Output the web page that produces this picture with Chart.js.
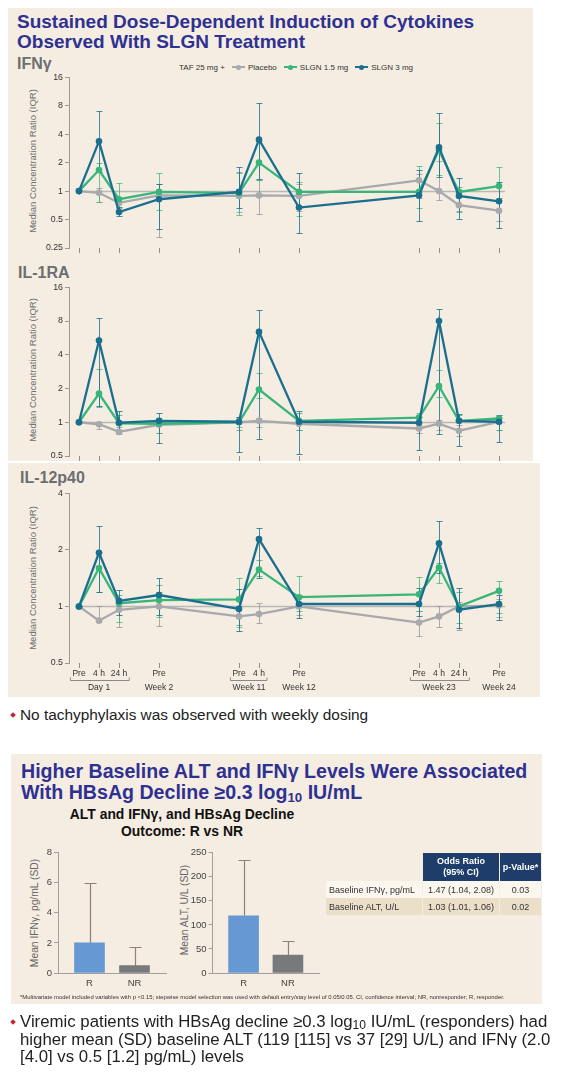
<!DOCTYPE html>
<html lang="en">
<head>
  <meta charset="UTF-8" />
  <title>SLGN cytokine induction</title>
  <style>
    body {
      margin: 0;
      width: 573px;
      height: 1074px;
      position: relative;
      overflow: hidden;
      background: #fff;
      font-family: 'Liberation Sans', Arial, sans-serif;
      color: #222;
    }
    .panel { position: absolute; background: #f5ede1; }
    .abs { position: absolute; white-space: nowrap; }
    .title { color: #2e3192; font-weight: bold; font-size: 19px; line-height: 20px; }
    .cyto { color: #6d6e71; font-weight: bold; font-size: 16px; line-height: 16px; }
    .ytitle {
      position: absolute;
      transform: translate(-50%, -50%) rotate(-90deg);
      white-space: nowrap;
      color: #6d6e71;
      font-size: 9.5px;
    }
    .legend { font-size: 8px; line-height: 8px; color: #333; }
    .mk {
      display: inline-block; position: relative;
      width: 13px; height: 2px; margin: 0 3px 0 7px; vertical-align: 2px;
    }
    .mk::after {
      content: ''; position: absolute; left: 4px; top: -1.5px;
      width: 5px; height: 5px; border-radius: 50%; background: inherit;
    }
    .dia {
      position: absolute; width: 4px; height: 4px; background: #c1272d;
      transform: rotate(45deg);
    }
    canvas { position: absolute; }
    table.odds {
      position: absolute; border-collapse: separate; border-spacing: 1px 0;
      font-size: 9px; color: #333;
    }
    table.odds th {
      background: #1f3d6b; color: #fff; font-weight: bold; height: 28px;
      padding: 0; text-align: center; line-height: 11px;
    }
    table.odds th.blank { background: transparent; }
    table.odds td { height: 17px; padding: 0 3px; }
    table.odds td.c { text-align: center; }
    .sub { font-size: 0.68em; vertical-align: -0.2em; line-height: 0; }
  </style>
</head>
<body>
  <div class="panel" style="left:8px; top:8px; width:525px; height:453px;"></div>
  <div class="panel" style="left:8px; top:463px; width:532px; height:234px;"></div>
  <div class="panel" style="left:11px; top:754px; width:531px; height:250px;"></div>

  <div class="abs title" style="left:17px; top:12px;">Sustained Dose-Dependent Induction of Cytokines<br>Observed With SLGN Treatment</div>
  <div class="abs cyto" style="left:17px; top:56px;">IFNγ</div>
  <div class="abs cyto" style="left:18px; top:265px;">IL-1RA</div>
  <div class="abs cyto" style="left:20px; top:470px;">IL-12p40</div>

  <div class="abs legend" style="left:179px; top:64px;">TAF 25 mg +<span class="mk" style="background:#a7a9ac"></span>Placebo<span class="mk" style="background:#38b57a"></span>SLGN 1.5 mg<span class="mk" style="background:#1a6f8e"></span>SLGN 3 mg</div>

  <div class="ytitle" style="left:32px; top:161px;">Median Concentration Ratio (IQR)</div>
  <div class="ytitle" style="left:32px; top:370px;">Median Concentration Ratio (IQR)</div>
  <div class="ytitle" style="left:32px; top:578px;">Median Concentration Ratio (IQR)</div>

  <canvas id="ifnChart" width="520" height="190" style="left:0; top:70px;"></canvas>
  <canvas id="il1raChart" width="520" height="190" style="left:0; top:280px;"></canvas>
  <canvas id="il12Chart" width="540" height="210" style="left:0; top:486px;"></canvas>

  <div class="dia" style="left:11px; top:713px;"></div>
  <div class="abs" style="left:20px; top:707px; font-size:15.4px; line-height:15.4px; color:#222;">No tachyphylaxis was observed with weekly dosing</div>

  <div class="abs title" style="left:21px; top:761px; font-size:19.6px; line-height:21px;">Higher Baseline ALT and IFNγ Levels Were Associated<br>With HBsAg Decline ≥0.3 log<span class="sub">10</span> IU/mL</div>
  <div class="abs" style="left:52px; top:806px; width:260px; text-align:center; font-weight:bold; font-size:13.9px; line-height:17px; color:#111;">ALT and IFNγ, and HBsAg Decline<br>Outcome: R vs NR</div>

  <div class="ytitle" style="left:34px; top:913px; font-size:10.3px; color:#666;">Mean IFNγ, pg/mL (SD)</div>
  <div class="ytitle" style="left:184px; top:910px; font-size:10.3px; color:#666;">Mean ALT, U/L (SD)</div>
  <canvas id="ifnBar" width="175" height="150" style="left:0; top:845px;"></canvas>
  <canvas id="altBar" width="175" height="150" style="left:155px; top:845px;"></canvas>

  <table class="odds" id="oddsTable" style="left:325px; top:853px;"></table>

  <div class="abs" style="left:20px; top:994px; font-size:5.9px; color:#333;">*Multivariate model included variables with p &lt;0.15; stepwise model selection was used with default entry/stay level of 0.05/0.05. CI, confidence interval; NR, nonresponder; R, responder.</div>

  <div class="dia" style="left:11px; top:1020px;"></div>
  <div class="abs" style="left:20px; top:1013px; font-size:16.8px; line-height:17.5px; color:#222;">Viremic patients with HBsAg decline ≥0.3 log<span class="sub" style="font-size:0.72em">10</span> IU/mL (responders) had<br>higher mean (SD) baseline ALT (119 [115] vs 37 [29] U/L) and IFNγ (2.0<br>[4.0] vs 0.5 [1.2] pg/mL) levels</div>

  <script src="https://cdn.jsdelivr.net/npm/chart.js"></script>
  <script>
    // visit timeline (x = study timeline step)
    const timeX = [0, 1, 2, 4, 8, 9, 11, 17, 18, 19, 21];
    const timeLabels = ['Pre', '4 h', '24 h', 'Pre', 'Pre', '4 h', 'Pre', 'Pre', '4 h', '24 h', 'Pre'];
    const visitGroups = ['Day 1', 'Week 2', 'Week 11', 'Week 12', 'Week 23', 'Week 24'];
    const visitGroupIdx = [[0, 2], [3, 3], [4, 5], [6, 6], [7, 9], [10, 10]];

    // IFNy median ratio + IQR
    const ifnPlacebo   = [1, 0.96, 0.75, 0.90, 0.89, 0.90, 0.89, 1.30, 1.00, 0.71, 0.62];
    const ifnPlaceboLo = [1, 0.76, 0.66, 0.33, 0.60, 0.57, 0.62, 0.85, 0.80, 0.62, 0.48];
    const ifnPlaceboHi = [1, 1.08, 0.85, 1.19, 1.60, 1.30, 1.20, 1.50, 2.10, 0.90, 0.80];
    const ifnLow       = [1, 1.67, 0.82, 0.98, 0.95, 2.00, 0.98, 0.98, 2.70, 0.98, 1.13];
    const ifnLowLo     = [1, 0.76, 0.60, 0.63, 0.56, 1.30, 0.54, 0.67, 1.47, 0.60, 0.85];
    const ifnLowHi     = [1, 2.00, 1.22, 1.54, 1.54, 3.40, 1.25, 1.84, 5.20, 1.10, 1.78];
    const ifnHigh      = [1, 3.37, 0.60, 0.82, 0.98, 3.50, 0.67, 0.90, 2.90, 0.89, 0.78];
    const ifnHighLo    = [1, 1.60, 0.55, 0.40, 0.67, 1.35, 0.36, 0.48, 1.40, 0.51, 0.41];
    const ifnHighHi    = [1, 7.06, 0.68, 1.20, 1.80, 8.60, 1.55, 1.67, 6.70, 1.38, 1.25];

    // IL-1RA
    const il1Placebo   = [1, 0.96, 0.82, 0.95, 1.00, 1.03, 0.97, 0.88, 0.97, 0.84, 1.01];
    const il1PlaceboLo = [1, 0.87, 0.78, 0.80, 0.90, 0.90, 0.85, 0.80, 0.85, 0.75, 0.85];
    const il1PlaceboHi = [1, 1.00, 0.90, 1.05, 1.10, 1.10, 1.05, 0.95, 1.05, 0.95, 1.10];
    const il1Low       = [1, 1.80, 0.98, 0.97, 1.00, 1.96, 1.03, 1.10, 2.10, 1.03, 1.08];
    const il1LowLo     = [1, 1.37, 0.85, 0.80, 0.85, 1.65, 0.85, 0.90, 1.69, 0.85, 0.85];
    const il1LowHi     = [1, 2.97, 1.15, 1.10, 1.12, 2.77, 1.20, 1.20, 2.90, 1.15, 1.12];
    const il1High      = [1, 5.35, 0.99, 1.03, 1.01, 6.40, 1.01, 0.99, 8.00, 1.03, 1.01];
    const il1HighLo    = [1, 1.40, 0.85, 0.65, 0.54, 0.71, 0.52, 0.57, 0.79, 0.61, 0.67];
    const il1HighHi    = [1, 8.50, 1.27, 1.22, 1.12, 10.0, 1.26, 1.12, 10.3, 1.18, 1.16];

    // IL-12p40
    const il12Placebo   = [1, 0.84, 0.96, 1.00, 0.885, 0.91, 1.00, 0.82, 0.885, 1.00, 1.01];
    const il12PlaceboLo = [1, 0.84, 0.78, 0.79, 0.78, 0.82, 0.90, 0.70, 0.78, 0.75, 0.88];
    const il12PlaceboHi = [1, 1.00, 1.00, 1.20, 1.00, 1.04, 1.05, 0.95, 1.01, 1.05, 1.10];
    const il12Low       = [1, 1.60, 1.04, 1.08, 1.09, 1.57, 1.12, 1.16, 1.61, 1.00, 1.21];
    const il12LowLo     = [1, 1.19, 0.83, 0.88, 0.80, 1.45, 0.95, 0.95, 1.33, 0.82, 0.92];
    const il12LowHi     = [1, 1.95, 1.15, 1.30, 1.41, 1.77, 1.46, 1.43, 1.70, 1.20, 1.37];
    const il12High      = [1, 1.93, 1.07, 1.15, 0.97, 2.28, 1.03, 1.03, 2.17, 0.96, 1.03];
    const il12HighLo    = [1, 1.20, 0.90, 0.90, 0.74, 1.41, 0.87, 0.885, 1.50, 0.77, 0.85];
    const il12HighHi    = [1, 2.69, 1.22, 1.41, 1.24, 2.63, 1.15, 1.25, 2.85, 1.25, 1.15];

    // baseline by HBsAg outcome
    const barCats = ['R', 'NR'];
    const ifnMean = [2.0, 0.5];
    const ifnSD = [4.0, 1.2];
    const altMean = [119, 37];
    const altSD = [115, 29];

    // odds ratio table
    const oddsRows = ['Baseline IFNγ, pg/mL', 'Baseline ALT, U/L'];
    const oddsRatios = ['1.47 (1.04, 2.08)', '1.03 (1.01, 1.06)'];
    const pValues = ['0.03', '0.02'];

    Chart.defaults.font.family = "'Liberation Sans', Arial, sans-serif";

    const GRAY = '#a7a9ac', GREEN = '#38b57a', BLUE = '#1a6f8e';

    // IQR whiskers drawn through the scales
    const errorBars = {
      id: 'errorBars',
      beforeDatasetsDraw(chart) {
        const { ctx, scales: { x, y } } = chart;
        chart.data.datasets.forEach(ds => {
          if (!ds.lo) return;
          ctx.save();
          ctx.strokeStyle = ds.errColor;
          ctx.lineWidth = 1;
          ds.data.forEach((pt, j) => {
            const px = Math.round(x.getPixelForValue(pt.x)) + 0.5;
            const top = Math.round(y.getPixelForValue(ds.hi[j])) + 0.5;
            const bot = Math.round(y.getPixelForValue(ds.lo[j])) + 0.5;
            ctx.beginPath();
            ctx.moveTo(px, top); ctx.lineTo(px, bot);
            ctx.moveTo(px - 3, top); ctx.lineTo(px + 3, top);
            ctx.moveTo(px - 3, bot); ctx.lineTo(px + 3, bot);
            ctx.stroke();
          });
          ctx.restore();
        });
      }
    };

    // ratio = 1 reference line
    const refLine = {
      id: 'refLine',
      beforeDatasetsDraw(chart) {
        const { ctx, scales: { x, y } } = chart;
        const py = Math.round(y.getPixelForValue(1)) + 0.5;
        ctx.save();
        ctx.strokeStyle = '#b8b8b8';
        ctx.lineWidth = 1.3;
        ctx.beginPath();
        ctx.moveTo(x.getPixelForValue(0), py);
        ctx.lineTo(x.getPixelForValue(21.3), py);
        ctx.stroke();
        ctx.restore();
      }
    };

    // Day / Week labels under the time ticks
    const visitBrackets = {
      id: 'visitBrackets',
      afterDraw(chart) {
        const { ctx, chartArea, scales: { x } } = chart;
        ctx.save();
        ctx.font = "8.5px 'Liberation Sans', Arial, sans-serif";
        ctx.fillStyle = '#333';
        ctx.strokeStyle = '#8a8a8a';
        ctx.lineWidth = 1;
        ctx.textAlign = 'center';
        ctx.textBaseline = 'middle';
        const yBr = Math.round(chartArea.bottom + 17) + 0.5;
        visitGroupIdx.forEach(([a, b], g) => {
          const xa = x.getPixelForValue(timeX[a]);
          const xb = x.getPixelForValue(timeX[b]);
          ctx.fillText(visitGroups[g], (xa + xb) / 2, chartArea.bottom + 24.5);
          if (b > a) {
            const l = xa - ctx.measureText(timeLabels[a]).width / 2 - 2;
            const r = xb + ctx.measureText(timeLabels[b]).width / 2 + 2;
            ctx.beginPath();
            ctx.moveTo(l, yBr - 3); ctx.lineTo(l, yBr); ctx.lineTo(r, yBr); ctx.lineTo(r, yBr - 3);
            ctx.stroke();
          }
        });
        ctx.restore();
      }
    };

    function series(label, med, lo, hi, color, errColor, order) {
      return {
        label: label,
        data: med.map((v, i) => ({ x: timeX[i], y: v })),
        lo: lo, hi: hi, errColor: errColor,
        borderColor: color, backgroundColor: color,
        pointBackgroundColor: color, pointBorderWidth: 0,
        pointRadius: 3.3, borderWidth: 2.3, order: order
      };
    }

    function lineChart(id, sets, yTicks, padRight, xHeight, withLabels, extra) {
      return new Chart(document.getElementById(id), {
        type: 'line',
        data: { datasets: sets },
        options: {
          responsive: false,
          animation: false,
          events: [],
          layout: { padding: { top: 7, right: padRight, left: 0, bottom: 0 } },
          plugins: { legend: { display: false }, tooltip: { enabled: false } },
          scales: {
            x: {
              type: 'linear', min: -0.5, max: 21.5,
              border: { display: false },
              grid: { drawOnChartArea: false, color: '#8f8f8f', tickLength: 5 },
              afterBuildTicks: s => { s.ticks = timeX.map(v => ({ value: v })); },
              afterFit: s => { s.height = xHeight; },
              ticks: {
                autoSkip: false, maxRotation: 0, padding: 1, color: '#333', font: { size: 8.5 },
                callback: v => withLabels ? timeLabels[timeX.indexOf(v)] : ''
              }
            },
            y: {
              type: 'logarithmic', min: yTicks[0], max: yTicks[yTicks.length - 1],
              border: { color: '#9a9a9a' },
              grid: { drawOnChartArea: false, color: '#9a9a9a', tickLength: 4 },
              afterBuildTicks: s => { s.ticks = yTicks.map(v => ({ value: v })); },
              afterFit: s => { s.width = 69; },
              ticks: { autoSkip: false, padding: 2, color: '#333', font: { size: 8.8 }, callback: v => String(v) }
            }
          }
        },
        plugins: [refLine, errorBars].concat(extra || [])
      });
    }

    lineChart('ifnChart', [
      series('Placebo', ifnPlacebo, ifnPlaceboLo, ifnPlaceboHi, GRAY, 'rgba(150,152,155,0.8)', 3),
      series('SLGN 1.5 mg', ifnLow, ifnLowLo, ifnLowHi, GREEN, 'rgba(56,181,122,0.75)', 2),
      series('SLGN 3 mg', ifnHigh, ifnHighLo, ifnHighHi, BLUE, 'rgba(26,111,142,0.8)', 1)
    ], [0.25, 0.5, 1, 2, 4, 8, 16], 11, 12, false);

    lineChart('il1raChart', [
      series('Placebo', il1Placebo, il1PlaceboLo, il1PlaceboHi, GRAY, 'rgba(150,152,155,0.8)', 3),
      series('SLGN 1.5 mg', il1Low, il1LowLo, il1LowHi, GREEN, 'rgba(56,181,122,0.75)', 2),
      series('SLGN 3 mg', il1High, il1HighLo, il1HighHi, BLUE, 'rgba(26,111,142,0.8)', 1)
    ], [0.5, 1, 2, 4, 8, 16], 11, 14, false);

    lineChart('il12Chart', [
      series('Placebo', il12Placebo, il12PlaceboLo, il12PlaceboHi, GRAY, 'rgba(150,152,155,0.8)', 3),
      series('SLGN 1.5 mg', il12Low, il12LowLo, il12LowHi, GREEN, 'rgba(56,181,122,0.75)', 2),
      series('SLGN 3 mg', il12High, il12HighLo, il12HighHi, BLUE, 'rgba(26,111,142,0.8)', 1)
    ], [0.5, 1, 2, 4], 31, 33, true, [visitBrackets]);

    // SD whisker (upper only) for the bar charts
    const sdBars = {
      id: 'sdBars',
      beforeDatasetsDraw(chart) {
        const { ctx, scales: { x, y } } = chart;
        const ds = chart.data.datasets[0];
        ctx.save();
        ctx.strokeStyle = '#8c8279';
        ctx.lineWidth = 1.2;
        ds.data.forEach((pt, j) => {
          const px = Math.round(x.getPixelForValue(pt.x)) + 0.5;
          const top = Math.round(y.getPixelForValue(pt.y + ds.sd[j])) + 0.5;
          const base = y.getPixelForValue(pt.y);
          ctx.beginPath();
          ctx.moveTo(px, base); ctx.lineTo(px, top);
          ctx.moveTo(px - 6, top); ctx.lineTo(px + 6, top);
          ctx.stroke();
        });
        ctx.restore();
      }
    };

    function barChart(id, means, sds, yMax, step, yWidth, padRight) {
      return new Chart(document.getElementById(id), {
        type: 'bar',
        data: {
          datasets: [{
            data: means.map((v, i) => ({ x: i + 1, y: v })),
            sd: sds,
            backgroundColor: ['#6699d3', '#77797b'],
            barThickness: 30
          }]
        },
        options: {
          responsive: false,
          animation: false,
          events: [],
          layout: { padding: { top: 7, right: padRight, left: 0, bottom: 0 } },
          plugins: { legend: { display: false }, tooltip: { enabled: false } },
          scales: {
            x: {
              type: 'linear', min: 0.3, max: 2.7, offset: false,
              border: { color: '#a0a0a0' },
              grid: { display: false, drawTicks: false },
              afterBuildTicks: s => { s.ticks = barCats.map((c, i) => ({ value: i + 1 })); },
              afterFit: s => { s.height = 22; },
              ticks: { padding: 5, color: '#444', font: { size: 9.5 }, callback: v => barCats[v - 1] }
            },
            y: {
              min: 0, max: yMax,
              border: { color: '#a0a0a0' },
              grid: { drawOnChartArea: false, color: '#a0a0a0', tickLength: 4 },
              afterFit: s => { s.width = yWidth; },
              ticks: { stepSize: step, padding: 2, color: '#444', font: { size: 9.5 } }
            }
          }
        },
        plugins: [sdBars]
      });
    }

    barChart('ifnBar', ifnMean, ifnSD, 8, 2, 58, 9);
    barChart('altBar', altMean, altSD, 250, 50, 57.5, 11);

    // odds table
    const table = document.getElementById('oddsTable');
    table.innerHTML =
      '<tr><th class="blank" style="width:96px"></th><th style="width:76px">Odds Ratio<br>(95% CI)</th><th style="width:41px">p-Value*</th></tr>' +
      oddsRows.map((r, i) =>
        '<tr style="background:' + (i === 0 ? '#fbf6ee' : '#ecdfca') + '"><td>' + r + '</td><td class="c">' +
        oddsRatios[i] + '</td><td class="c">' + pValues[i] + '</td></tr>').join('');
  </script>
</body>
</html>
